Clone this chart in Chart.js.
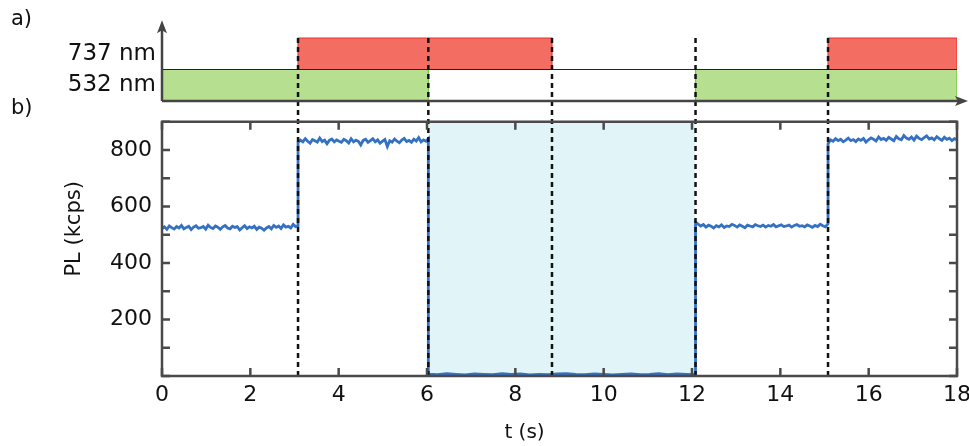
<!DOCTYPE html>
<html lang="en">
<head>
  <meta charset="UTF-8">
  <title>PL under 532 / 737 nm switching</title>
  <script src="https://cdn.jsdelivr.net/npm/chart.js"></script>
  <style>
    body { margin: 0; background: #fff; }
    #wrap { position: relative; width: 969px; height: 446px; }
    .panel { position: absolute; font: 21px 'DejaVu Sans', sans-serif; color: #111; line-height: 24px; }
  </style>
</head>
<body>
<div id="wrap">
  <canvas id="plChart" width="969" height="446"></canvas>
  <div class="panel" style="left:11px; top:6px;">a)</div>
  <div class="panel" style="left:11px; top:95px;">b)</div>
</div>

<script>
  // laser on/off windows (s)
  const laserLabels = ['532 nm', '737 nm'];
  const green532On = [[0, 6.03], [12.08, 18]];
  const red737On = [[3.08, 8.83], [15.08, 18]];
  const darkWindow = [6.03, 12.08];
  const switchTimes = [3.08, 6.03, 8.83, 12.08, 15.08];

  // PL trace (kcps), one array per segment between switches
  const segBounds = [0, 3.08, 6.03, 12.08, 15.08, 18];
  const pl1 = [522,528,519,531,525,520,529,524,533,521,526,530,518,527,532,523,525,529,520,534,526,522,531,527,519,528,533,524,521,530,526,529,517,525,532,522,528,524,530,519,527,523,516,524,529,521,533,526,531,522,535,527,530,524,537,529,532];
  const pl2 = [826,835,829,840,831,824,837,833,828,842,830,835,822,834,839,829,836,831,827,838,833,825,840,829,835,831,818,834,838,827,833,840,829,836,824,831,837,812,833,828,839,831,826,835,841,830,834,827,838,832,844,829,836,831,840];
  const pl3 = [7,5,8,6,4,7,6,5,8,6,7,4,6,5,7,8,6,5,7,6,4,6,7,5,6,8,5,7,6,5];
  const pl4 = [545,538,531,536,527,534,530,524,532,528,535,526,531,529,537,533,527,535,530,525,534,531,528,536,532,529,534,527,533,530,536,528,532,535,529,531,534,527,533,536,530,532,528,535,531,526,533,529,537,532,528,539];
  const pl5 = [822,836,831,840,833,838,829,835,842,833,837,830,839,834,841,828,836,843,838,832,846,837,841,834,845,839,833,848,840,836,851,842,838,846,835,849,841,837,844,850,839,843,836,847,840,834,845,838,842,833,840,836];

  const xTickVals = [0, 2, 4, 6, 8, 10, 12, 14, 16, 18];
  const yTickVals = [0, 100, 200, 300, 400, 500, 600, 700, 800, 900];
  const yLabelVals = [200, 400, 600, 800];

  const FONT = 'DejaVu Sans';

  function segPoints(vals, t0, t1) {
    return vals.map((v, i) => ({ x: t0 + (t1 - t0) * i / (vals.length - 1), y: v }));
  }

  const segments = [pl1, pl2, pl3, pl4, pl5];
  let trace = [];
  segments.forEach((s, i) => { trace = trace.concat(segPoints(s, segBounds[i], segBounds[i + 1])); });

  function barBox(on, lo, hi) {
    return [{ x: on[0], y: lo }, { x: on[0], y: hi }, { x: on[1], y: hi }, { x: on[1], y: lo }];
  }

  const datasets = [
    {
      data: trace, yAxisID: 'y', borderColor: '#3471c3', borderWidth: 2.8,
      pointRadius: 0, fill: false, order: 0, tension: 0
    },
    {
      data: [{ x: 0, y: 1 }, { x: 18, y: 1 }], yAxisID: 'yTop', borderColor: '#222',
      borderWidth: 1.2, pointRadius: 0, fill: false, order: 1
    },
    {
      data: [{ x: darkWindow[0], y: 900 }, { x: darkWindow[1], y: 900 }], yAxisID: 'y',
      borderWidth: 0, pointRadius: 0, backgroundColor: '#e1f4f7', fill: { value: 0 }, order: 9
    }
  ];
  red737On.forEach(on => datasets.push({
    data: barBox(on, 1, 2), yAxisID: 'yTop', borderColor: '#e8352e', borderWidth: 1.2,
    backgroundColor: '#f46d62', fill: { value: 1 }, pointRadius: 0, order: 3
  }));
  green532On.forEach(on => datasets.push({
    data: barBox(on, 0, 1), yAxisID: 'yTop', borderColor: '#72c43c', borderWidth: 1.2,
    backgroundColor: '#b6e08f', fill: { value: 0 }, pointRadius: 0, order: 3
  }));

  // frame, inward ticks, arrows and dashed switch markers
  const overlay = {
    id: 'overlay',
    afterDatasetsDraw(chart) {
      const ctx = chart.ctx;
      const x = chart.scales.x, y = chart.scales.y, yt = chart.scales.yTop;
      const L = x.getPixelForValue(0), R = x.getPixelForValue(18);
      const T = y.getPixelForValue(900), B = y.getPixelForValue(0);
      ctx.save();

      // dashed switching lines
      ctx.strokeStyle = '#111';
      ctx.lineWidth = 2.5;
      ctx.setLineDash([5, 4]);
      switchTimes.forEach(t => {
        const px = x.getPixelForValue(t);
        ctx.beginPath();
        ctx.moveTo(px, yt.getPixelForValue(2));
        ctx.lineTo(px, B);
        ctx.stroke();
      });
      ctx.setLineDash([]);

      // panel b frame
      ctx.strokeStyle = '#4a4a4a';
      ctx.lineWidth = 2.5;
      ctx.strokeRect(L, T, R - L, B - T);
      const tl = 8;
      ctx.beginPath();
      xTickVals.forEach(v => {
        const px = x.getPixelForValue(v);
        ctx.moveTo(px, B); ctx.lineTo(px, B - tl);
        ctx.moveTo(px, T); ctx.lineTo(px, T + tl);
      });
      yTickVals.forEach(v => {
        const py = y.getPixelForValue(v);
        ctx.moveTo(L, py); ctx.lineTo(L + tl, py);
        ctx.moveTo(R, py); ctx.lineTo(R - tl, py);
      });
      ctx.stroke();

      // panel a axes with arrows
      const y0 = yt.getPixelForValue(0);
      const topY = chart.chartArea.top - 3;
      const rightX = Math.min(R + 13, chart.width - 1);
      ctx.strokeStyle = '#444';
      ctx.fillStyle = '#444';
      ctx.lineWidth = 2.5;
      ctx.beginPath();
      ctx.moveTo(L, y0); ctx.lineTo(L, topY + 8);
      ctx.moveTo(L, y0); ctx.lineTo(rightX - 8, y0);
      ctx.stroke();
      ctx.beginPath();
      ctx.moveTo(L, topY); ctx.lineTo(L - 5, topY + 13); ctx.lineTo(L, topY + 10); ctx.lineTo(L + 5, topY + 13);
      ctx.closePath(); ctx.fill();
      ctx.beginPath();
      ctx.moveTo(rightX, y0); ctx.lineTo(rightX - 13, y0 - 5); ctx.lineTo(rightX - 10, y0); ctx.lineTo(rightX - 13, y0 + 5);
      ctx.closePath(); ctx.fill();
      ctx.restore();
    }
  };

  const ctx = document.getElementById('plChart').getContext('2d');
  const plChart = new Chart(ctx, {
    type: 'line',
    data: { datasets: datasets },
    options: {
      responsive: false,
      animation: false,
      layout: { padding: { left: 0, right: 12, top: 15, bottom: 0 } },
      plugins: { legend: { display: false }, tooltip: { enabled: false } },
      scales: {
        x: {
          type: 'linear', min: 0, max: 18,
          grid: { display: false, drawTicks: false },
          border: { display: false },
          afterBuildTicks: s => { s.ticks = xTickVals.map(v => ({ value: v })); },
          afterFit: s => { s.height = 70; s.paddingRight = 0; s.paddingLeft = 0; },
          ticks: { autoSkip: false, maxRotation: 0, padding: 6, color: '#111', font: { family: FONT, size: 22 } },
          title: {
            display: true, text: 't (s)           ', color: '#111',
            font: { family: FONT, size: 20 }, padding: { top: 0, bottom: 1 }
          }
        },
        y: {
          type: 'linear', position: 'left', stack: 'panels', stackWeight: 258,
          min: 0, max: 900,
          grid: { display: false, drawTicks: false },
          border: { display: false },
          afterBuildTicks: s => { s.ticks = yTickVals.map(v => ({ value: v })); },
          afterFit: s => { s.width = 162; },
          ticks: {
            autoSkip: false, padding: 10, color: '#111', font: { family: FONT, size: 22 },
            callback: v => yLabelVals.includes(v) ? String(v) : ''
          },
          title: {
            display: true, text: '      PL (kcps)', color: '#111',
            font: { family: FONT, size: 21 }, padding: { top: 62, bottom: 0 }
          }
        },
        yTop: {
          type: 'linear', position: 'left', stack: 'panels', stackWeight: 100,
          min: -0.66, max: 2.47,
          grid: { display: false, drawTicks: false },
          border: { display: false },
          afterBuildTicks: s => { s.ticks = [{ value: 0.5 }, { value: 1.5 }]; },
          afterFit: s => { s.width = 162; },
          ticks: {
            autoSkip: false, padding: 6, color: '#111', font: { family: FONT, size: 23 },
            callback: v => laserLabels[Math.round(v - 0.5)]
          }
        }
      }
    },
    plugins: [overlay]
  });
</script>
</body>
</html>
